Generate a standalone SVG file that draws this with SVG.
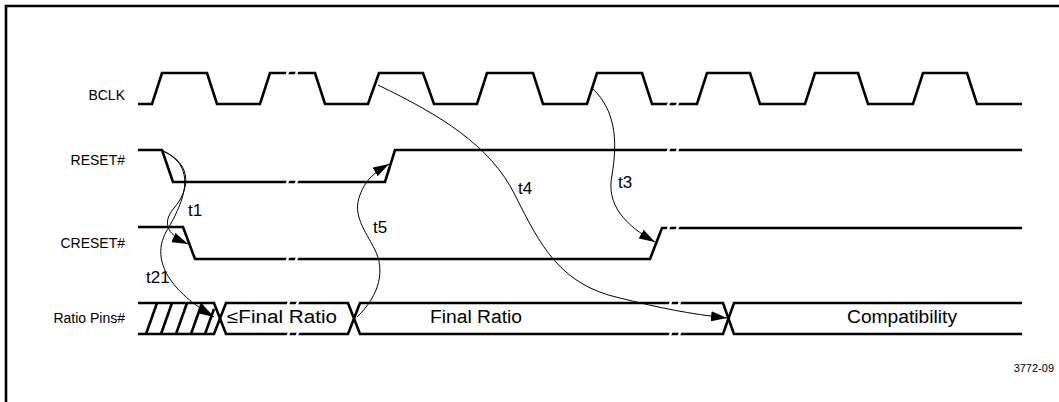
<svg xmlns="http://www.w3.org/2000/svg" xmlns:xlink="http://www.w3.org/1999/xlink" width="1059" height="402" viewBox="0 0 1059 402">
<style>
  .sig{fill:none;stroke:#000;stroke-width:2.6;stroke-linejoin:miter}
  .frame{fill:none;stroke:#000;stroke-width:2.6}
  .brk line{stroke:#fff;stroke-width:2.4}
  .conn{fill:none;stroke:#000;stroke-width:1}
  .lbl{font-family:"Liberation Sans",Arial,sans-serif;font-size:14px;fill:#000;text-anchor:end}
  .bus{font-family:"Liberation Sans",Arial,sans-serif;font-size:18px;fill:#000;text-anchor:middle}
  .tl{font-family:"Liberation Sans",Arial,sans-serif;font-size:17px;fill:#000}
  .id{font-family:"Liberation Sans",Arial,sans-serif;font-size:11px;fill:#000;text-anchor:end}
</style>
<defs>
  <g id="brk" class="brk"><line x1="0" y1="4" x2="3" y2="-4"/><line x1="9" y1="4" x2="12" y2="-4"/></g>
  <marker id="arr" markerUnits="userSpaceOnUse" markerWidth="16" markerHeight="10" refX="16" refY="5" orient="auto">
    <path d="M0,0 L16,5 L0,10 z" fill="#000"/>
  </marker>
</defs>
<rect width="1059" height="402" fill="#fff"/>
<path class="frame" d="M6,402 V6 H1059"/>

<g id="bclk">
  <text class="lbl" x="125" y="100">BCLK</text>
  <path class="sig" d="M138,104 H152 L162,73 H207 L217,104 H260 L270,73 H315 L325,104 H368 L379,73 H423 L434,104 H477 L487,73 H533 L543,104 H587 L597,73 H642 L652,104 H697 L707,73 H750 L760,104 H805 L815,73 H858 L868,104 H913 L923,73 H967 L977,104 H1022"/>
  <use xlink:href="#brk" x="286" y="73"/>
  <use xlink:href="#brk" x="667" y="104"/>
</g>

<g id="reset">
  <text class="lbl" x="125" y="165">RESET#</text>
  <path class="sig" d="M138,150 H162 L173,182 H385 L395,150 H1022"/>
  <use xlink:href="#brk" x="286" y="182"/>
  <use xlink:href="#brk" x="667" y="150"/>
</g>

<g id="creset">
  <text class="lbl" x="125" y="248">CRESET#</text>
  <path class="sig" d="M138,227 H183 L195,259 H650 L662,228 H1022"/>
  <use xlink:href="#brk" x="286" y="259"/>
  <use xlink:href="#brk" x="667" y="228"/>
</g>

<g id="ratio">
  <text class="lbl" x="125" y="323">Ratio Pins#</text>
  <path class="sig" d="M138,303 H214 L226,334 H348 L360,303 H723 L734,334 H1022"/>
  <path class="sig" d="M138,334 H214 L226,303 H348 L360,334 H723 L734,303 H1022"/>
  <path class="sig" d="M146,334 L157,303 M161,334 L172,303 M176,334 L187,303 M191,334 L202,303 M205,334 L214,309"/>
  <use xlink:href="#brk" x="287" y="303"/>
  <use xlink:href="#brk" x="287" y="334"/>
  <use xlink:href="#brk" x="669" y="303"/>
  <use xlink:href="#brk" x="669" y="334"/>
  <text class="bus" x="282" y="323" textLength="110" lengthAdjust="spacingAndGlyphs">≤Final Ratio</text>
  <text class="bus" x="476" y="323" textLength="92" lengthAdjust="spacingAndGlyphs">Final Ratio</text>
  <text class="bus" x="902" y="323" textLength="110" lengthAdjust="spacingAndGlyphs">Compatibility</text>
</g>

<g id="connectors">
  <path class="conn" marker-end="url(#arr)" d="M163,151 C195,165 188,192 174,208 C160,225 170,236 188,244"/>
  <path class="conn" marker-end="url(#arr)" d="M163,151 C200,168 182,205 166,232 C150,262 172,292 214,317"/>
  <path class="conn" marker-end="url(#arr)" d="M357,317 C380,295 385,270 375,250 C365,230 352,215 360,195 C365,180 375,172 389,164"/>
  <path class="conn" marker-end="url(#arr)" d="M378,85 C440,115 490,145 515,195 C540,245 560,285 620,298 C660,308 690,314 727,318"/>
  <path class="conn" marker-end="url(#arr)" d="M593,89 C615,110 618,140 612,175 C606,205 625,225 655,242"/>
  <text class="tl" x="188" y="216">t1</text>
  <text class="tl" x="146" y="283">t21</text>
  <text class="tl" x="373" y="233">t5</text>
  <text class="tl" x="518" y="194">t4</text>
  <text class="tl" x="618" y="188">t3</text>
</g>

<text class="id" x="1054" y="372">3772-09</text>
</svg>
